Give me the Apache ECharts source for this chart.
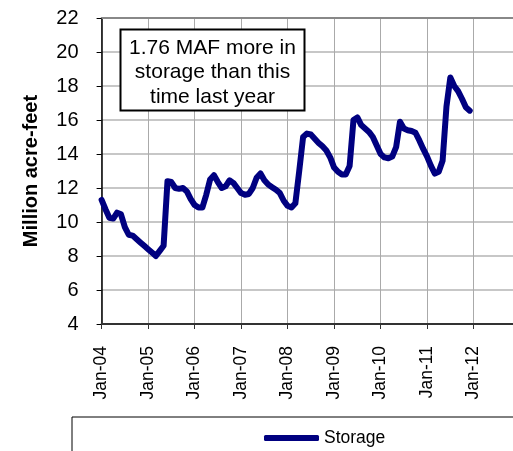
<!DOCTYPE html>
<html>
<head>
<meta charset="utf-8">
<script src="https://cdn.jsdelivr.net/npm/echarts@6/dist/echarts.min.js"></script>
<style>
html,body{margin:0;padding:0;background:#fff;}
#chart{width:513px;height:451px;}
</style>
</head>
<body>
<div id="chart"></div>
<script>
// Month categories Jan-04 .. Jan-13
var monthNames = ['Jan','Feb','Mar','Apr','May','Jun','Jul','Aug','Sep','Oct','Nov','Dec'];
var years = ['04','05','06','07','08','09','10','11','12','13'];
var categories = [];
for (var y = 0; y < years.length; y++) {
  for (var mi = 0; mi < 12; mi++) {
    if (y === years.length - 1 && mi > 0) break;
    categories.push(monthNames[mi] + '-' + years[y]);
  }
}
var tickLabels = ['Jan-04','Jan-05','Jan-06','Jan-07','Jan-08','Jan-09','Jan-10','Jan-11','Jan-12'];

// Storage, million acre-feet, monthly Jan-04 .. Dec-11
var storage2004 = [11.3, 10.75, 10.25, 10.2, 10.55, 10.45, 9.7, 9.25, 9.2, 9.0, 8.8, 8.6];
var storage2005 = [8.4, 8.2, 8.0, 8.3, 8.6, 12.4, 12.35, 12.0, 11.95, 12.0, 11.8, 11.35];
var storage2006 = [11.0, 10.85, 10.85, 11.6, 12.5, 12.75, 12.35, 12.0, 12.1, 12.45, 12.3, 12.0];
var storage2007 = [11.7, 11.6, 11.65, 12.0, 12.6, 12.85, 12.45, 12.2, 12.05, 11.9, 11.7, 11.25];
var storage2008 = [10.95, 10.85, 11.1, 13.0, 15.0, 15.2, 15.15, 14.9, 14.65, 14.45, 14.2, 13.8];
var storage2009 = [13.2, 12.95, 12.8, 12.8, 13.3, 16.0, 16.15, 15.7, 15.5, 15.3, 15.0, 14.5];
var storage2010 = [14.0, 13.8, 13.75, 13.85, 14.4, 15.9, 15.5, 15.4, 15.35, 15.25, 14.8, 14.3];
var storage2011 = [13.85, 13.3, 12.85, 12.95, 13.6, 16.8, 18.5, 18.0, 17.7, 17.25, 16.75, 16.55];
var storage = [].concat(storage2004, storage2005, storage2006, storage2007,
                        storage2008, storage2009, storage2010, storage2011);

var yTicks = [4, 6, 8, 10, 12, 14, 16, 18, 20, 22];
var noteLines = ['1.76 MAF more in', 'storage than this', 'time last year'];

var chart = echarts.init(document.getElementById('chart'), null, {renderer: 'canvas'});
var font = 'Liberation Sans, Arial, sans-serif';
function isJan(i) { return i % 12 === 0; }

chart.setOption({
  animation: false,
  backgroundColor: '#fff',
  grid: {left: 101.6, top: 18, width: 418.5, height: 306, containLabel: false, outerBoundsMode: 'none'},
  xAxis: [{
    type: 'category',
    data: categories,
    boundaryGap: false,
    axisLine: {show: true, lineStyle: {color: '#333', width: 2}},
    axisTick: {show: true, length: 5, interval: function (i) { return isJan(i); }, lineStyle: {color: '#333', width: 1}},
    axisLabel: {
      interval: function (i) { return isJan(i); },
      rotate: 90, margin: 22, color: '#000', fontFamily: font, fontSize: 17.5,
      formatter: function (v, i) { return tickLabels[i / 12] || ''; }
    },
    splitLine: {show: true, interval: function (i) { return isJan(i); }, lineStyle: {color: '#aaa', width: 1}}
  }, {
    type: 'category',
    data: categories,
    position: 'top',
    boundaryGap: false,
    axisLine: {show: true, lineStyle: {color: '#888', width: 2}},
    axisTick: {show: false},
    axisLabel: {show: false},
    splitLine: {show: false}
  }],
  yAxis: {
    type: 'value',
    min: 4, max: 22, interval: 2,
    name: 'Million acre-feet',
    nameLocation: 'middle',
    nameRotate: 90,
    nameGap: 60,
    nameTextStyle: {fontFamily: font, fontSize: 20, fontWeight: 'bold', color: '#000'},
    axisLine: {show: true, lineStyle: {color: '#000', width: 1.5}},
    axisTick: {show: true, length: 5, lineStyle: {color: '#000', width: 1}},
    axisLabel: {margin: 23, color: '#000', fontFamily: font, fontSize: 20,
      formatter: function (v) { return yTicks.indexOf(v) >= 0 ? String(v) : ''; }},
    splitLine: {show: true, lineStyle: {color: '#b4b4b4', width: 1.5}}
  },
  legend: {
    show: true,
    left: 72, top: 417,
    padding: [12, 300, 40, 192],
    borderColor: '#000', borderWidth: 1,
    icon: 'roundRect',
    itemWidth: 55, itemHeight: 6,
    textStyle: {fontFamily: font, fontSize: 17.5, color: '#000'},
    data: [{name: 'Storage', itemStyle: {color: '#000080'}}]
  },
  series: [{
    name: 'Storage',
    type: 'line',
    data: storage,
    showSymbol: false,
    symbol: 'none',
    lineStyle: {color: '#000080', width: 6, cap: 'round', join: 'round'},
    itemStyle: {color: '#000080'}
  }],
  graphic: [{
    type: 'rect',
    shape: {x: 120.5, y: 29.5, width: 184, height: 81},
    style: {fill: '#fff', stroke: '#000', lineWidth: 2},
    z: 100
  }, {
    type: 'text',
    x: 212.5, y: 72.5,
    style: {
      text: noteLines.join('\n'),
      font: '21px ' + font,
      fill: '#000',
      align: 'center',
      verticalAlign: 'middle',
      lineHeight: 24.5
    },
    z: 101
  }]
});
</script>
</body>
</html>
